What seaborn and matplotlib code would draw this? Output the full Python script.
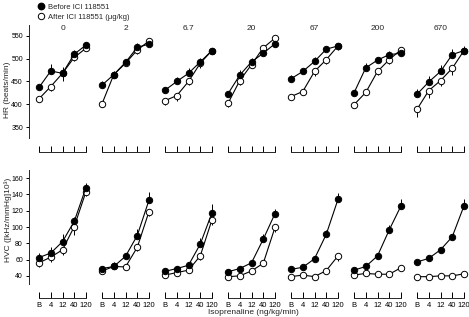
import numpy as np
import pandas as pd
import matplotlib
matplotlib.use("Agg")
import matplotlib.pyplot as plt
import seaborn as sns
from matplotlib.lines import Line2D


# =====================================================
# DATA
# =====================================================

doses = ["0", "2", "6.7", "20", "67", "200", "670"]

iso_labels = ["B", "4", "12", "40", "120"]

hr_before = [
    [437, 473, 468, 510, 530],
    [442, 465, 492, 525, 532],
    [431, 450, 468, 493, 518],
    [423, 464, 493, 512, 533],
    [456, 472, 494, 521, 528],
    [425, 480, 497, 509, 512],
    [422, 449, 472, 509, 518],
]

hr_after = [
    [412, 439, 468, 503, 523],
    [401, 465, 490, 519, 539],
    [408, 419, 450, 490, 518],
    [402, 452, 487, 524, 545],
    [417, 428, 472, 498, 528],
    [399, 426, 472, 498, 520],
    [389, 430, 452, 479, 518],
]

hr_before_err = [
    [5, 16, 14, 10, 6],
    [8, 8, 7, 10, 8],
    [8, 10, 12, 8, 4],
    [6, 12, 8, 10, 8],
    [8, 6, 10, 8, 6],
    [6, 10, 6, 8, 6],
    [12, 14, 14, 12, 10],
]

hr_after_err = [
    [5, 10, 16, 8, 6],
    [8, 6, 6, 8, 10],
    [10, 12, 8, 10, 4],
    [8, 10, 8, 10, 6],
    [6, 8, 10, 10, 8],
    [6, 6, 8, 10, 6],
    [16, 16, 12, 14, 8],
]

hvc_before = [
    [62.5, 68, 82, 107, 148.5],
    [49, 51.5, 64, 89.5, 133],
    [45.5, 49, 53, 79, 117.5],
    [45, 49, 56, 85, 116.5],
    [48, 50.5, 61, 91, 134],
    [47, 51.5, 64.5, 96.5, 126],
    [57, 61.5, 72, 88, 126],
]

hvc_after = [
    [56, 63, 72, 100.5, 143.5],
    [46, 51.5, 51, 75, 119],
    [41, 44, 47, 64.5, 109],
    [39, 40, 46, 55.5, 99.5],
    [39, 41, 39, 46.5, 64.5],
    [41, 43, 42, 42, 50],
    [39, 39, 40, 40, 42.5],
]

hvc_before_err = [
    [6, 8, 10, 5, 6],
    [3, 5, 4, 8, 10],
    [3, 3, 4, 7, 11],
    [3, 3, 4, 6, 6],
    [3, 3, 4, 5, 8],
    [3, 3, 4, 6, 8],
    [3, 3, 3, 4, 8],
]

hvc_after_err = [
    [5, 6, 6, 10, 6],
    [3, 3, 3, 5, 6],
    [2, 2, 3, 5, 6],
    [2, 2, 2, 4, 6],
    [2, 2, 2, 3, 6],
    [2, 2, 2, 2, 3],
    [2, 2, 2, 2, 2],
]


# =====================================================
# STYLE
# =====================================================

sns.set_style("ticks")

plt.rcParams["font.family"] = ["Liberation Sans", "DejaVu Sans"]
plt.rcParams["font.size"] = 5.5

W, H = 469, 317

fig = plt.figure(figsize=(W / 100, H / 100), dpi=100)

x_pos = np.arange(len(iso_labels))

px_per_unit = 11.75


def make_axes(i, top_px, bottom_px):

    b_px = 39 + 63 * i

    left_px = b_px - 0.3 * px_per_unit

    width_px = 4.6 * px_per_unit

    return fig.add_axes([
        left_px / W,
        1 - bottom_px / H,
        width_px / W,
        (bottom_px - top_px) / H
    ])


def draw_panel(ax, before, after, before_err, after_err):

    df_b = pd.DataFrame({"x": x_pos, "y": before})
    df_a = pd.DataFrame({"x": x_pos, "y": after})

    ax.errorbar(
        x_pos, after,
        yerr=[after_err, np.zeros(len(after_err))],
        fmt="none", ecolor="black", elinewidth=0.7, capsize=0, zorder=1
    )

    ax.errorbar(
        x_pos, before,
        yerr=[np.zeros(len(before_err)), before_err],
        fmt="none", ecolor="black", elinewidth=0.7, capsize=0, zorder=1
    )

    sns.lineplot(
        data=df_a, x="x", y="y", ax=ax,
        color="black", linewidth=0.8,
        marker="o", markersize=4.6,
        markerfacecolor="white", markeredgecolor="black",
        markeredgewidth=0.7, zorder=2
    )

    sns.lineplot(
        data=df_b, x="x", y="y", ax=ax,
        color="black", linewidth=0.8,
        marker="o", markersize=4.6,
        markerfacecolor="black", markeredgecolor="black",
        markeredgewidth=0.7, zorder=3
    )

    ax.set_xlim(-0.3, 4.3)

    ax.set_xlabel("")
    ax.set_ylabel("")

    ax.spines["top"].set_visible(False)
    ax.spines["right"].set_visible(False)

    ax.spines["bottom"].set_position(("outward", 10))
    ax.spines["bottom"].set_bounds(0, 4)
    ax.spines["bottom"].set_linewidth(0.7)

    ax.set_xticks(x_pos)

    ax.tick_params(
        axis="x", direction="in", length=4, width=0.7, pad=3,
        labelsize=5.5, colors="black"
    )

    ax.tick_params(
        axis="y", direction="out", length=2.5, width=0.7, pad=1.5,
        labelsize=5, colors="black"
    )

    ax.set_facecolor("none")


# =====================================================
# HR ROW
# =====================================================

for i, dose in enumerate(doses):

    ax = make_axes(i, 25, 138)

    draw_panel(ax, hr_before[i], hr_after[i], hr_before_err[i], hr_after_err[i])

    ax.set_ylim(326, 574)
    ax.set_yticks([350, 400, 450, 500, 550])

    ax.set_xticklabels([])

    ax.text(
        2, 566, dose, ha="center", va="center", fontsize=6
    )

    if i == 0:

        ax.spines["left"].set_position(("outward", 5))
        ax.spines["left"].set_linewidth(0.7)

    else:

        ax.spines["left"].set_visible(False)
        ax.set_yticks([])


# =====================================================
# HVC ROW
# =====================================================

for i, dose in enumerate(doses):

    ax = make_axes(i, 170, 284)

    draw_panel(ax, hvc_before[i], hvc_after[i], hvc_before_err[i], hvc_after_err[i])

    ax.set_ylim(30, 170)
    ax.set_yticks([40, 60, 80, 100, 120, 140, 160])

    ax.set_xticklabels(iso_labels)

    if i == 0:

        ax.spines["left"].set_position(("outward", 5))
        ax.spines["left"].set_linewidth(0.7)

    else:

        ax.spines["left"].set_visible(False)
        ax.set_yticks([])


# =====================================================
# AXIS LABELS
# =====================================================

fig.text(
    8 / W, 1 - 90 / H, "HR (beats/min)",
    ha="center", va="center", rotation=90, fontsize=6
)

fig.text(
    8 / W, 1 - 220 / H, "HVC ([kHz/mmHg]10\u00b3)",
    ha="center", va="center", rotation=90, fontsize=6
)

fig.text(
    253 / W, 1 - 313 / H, "Isoprenaline (ng/kg/min)",
    ha="center", va="center", fontsize=6
)


# =====================================================
# LEGEND
# =====================================================

handles = [
    Line2D([], [], linestyle="none", marker="o", markersize=4.6,
           markerfacecolor="black", markeredgecolor="black"),
    Line2D([], [], linestyle="none", marker="o", markersize=4.6,
           markerfacecolor="white", markeredgecolor="black",
           markeredgewidth=0.7),
]

fig.legend(
    handles,
    ["Before ICI 118551", "After ICI 118551 (\u03bcg/kg)"],
    loc="upper left",
    bbox_to_anchor=(33 / W, 1 + 1 / H),
    frameon=False,
    fontsize=5.5,
    handletextpad=0.3,
    handlelength=1.0,
    labelspacing=0.35,
    borderpad=0.1
)


fig.savefig("out.png", dpi=100)

plt.close()
